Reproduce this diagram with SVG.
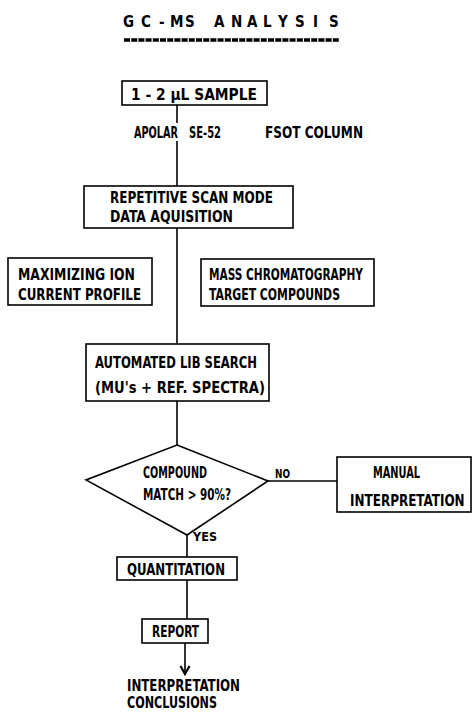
<svg xmlns="http://www.w3.org/2000/svg" width="472" height="713" viewBox="0 0 472 713">
<style>
  text { font-family: "DejaVu Sans Condensed", "Liberation Sans Narrow", "Liberation Sans", sans-serif; font-weight: bold; font-size: 15px; fill: #000; }
  .box { fill: #fff; stroke: #000; stroke-width: 1.6; }
  .ln { fill: none; stroke: #000; stroke-width: 1.6; }
  .lbl { font-size: 12px; }
</style>
<g id="title">
  <text x="123 141 159 170 185 214 231 247 263 278 295 313 329" y="27" font-size="17">GC-MSANALYSIS</text>
  <line x1="124" y1="40" x2="339" y2="40" stroke="#000" stroke-width="3.5" stroke-dasharray="6 1.2"/>
</g>
<g id="connectors">
  <line class="ln" x1="177" y1="105" x2="177" y2="123"/>
  <line class="ln" x1="177" y1="141" x2="177" y2="186"/>
  <line class="ln" x1="177" y1="228" x2="177" y2="344"/>
  <line class="ln" x1="177" y1="401" x2="177" y2="445"/>
  <line class="ln" x1="268" y1="481" x2="337" y2="481"/>
  <line class="ln" x1="187" y1="535" x2="187" y2="557"/>
  <line class="ln" x1="187" y1="580" x2="187" y2="619"/>
  <line class="ln" x1="185" y1="643" x2="185" y2="673"/>
  <path d="M180.5,666 L185,674 L189.5,666" fill="none" stroke="#000" stroke-width="2.2"/>
  <text class="lbl" x="275" y="478" textLength="15" lengthAdjust="spacingAndGlyphs">NO</text>
  <text class="lbl" x="193" y="541" textLength="24" lengthAdjust="spacingAndGlyphs">YES</text>
</g>
<g id="sample">
  <rect class="box" x="122" y="81" width="145" height="24"/>
  <text x="131" y="100" textLength="126" lengthAdjust="spacingAndGlyphs" font-size="16">1 - 2 μL SAMPLE</text>
</g>
<g id="column">
  <text transform="translate(134,138) scale(0.72,1)" font-size="14">APOLAR</text>
  <text x="189" y="138" textLength="32" lengthAdjust="spacingAndGlyphs" font-size="14">SE-52</text>
  <text x="265" y="138" textLength="98" lengthAdjust="spacingAndGlyphs" font-size="14">FSOT COLUMN</text>
</g>
<g id="repetitive">
  <rect class="box" x="84" y="186" width="209" height="42"/>
  <text x="110" y="203" textLength="163" lengthAdjust="spacingAndGlyphs">REPETITIVE SCAN MODE</text>
  <text x="110" y="222" textLength="123" lengthAdjust="spacingAndGlyphs">DATA AQUISITION</text>
</g>
<g id="maximizing">
  <rect class="box" x="8" y="258" width="144" height="47"/>
  <text x="18" y="280" textLength="117" lengthAdjust="spacingAndGlyphs">MAXIMIZING ION</text>
  <text x="18" y="300" textLength="123" lengthAdjust="spacingAndGlyphs">CURRENT PROFILE</text>
</g>
<g id="masschrom">
  <rect class="box" x="201" y="259" width="173" height="47"/>
  <text x="209" y="280" textLength="154" lengthAdjust="spacingAndGlyphs">MASS CHROMATOGRAPHY</text>
  <text x="209" y="300" textLength="131" lengthAdjust="spacingAndGlyphs">TARGET COMPOUNDS</text>
</g>
<g id="libsearch">
  <rect class="box" x="86" y="344" width="183" height="57"/>
  <text x="95" y="368" textLength="162" lengthAdjust="spacingAndGlyphs">AUTOMATED LIB SEARCH</text>
  <text x="95" y="393" textLength="170" lengthAdjust="spacingAndGlyphs">(MU's + REF. SPECTRA)</text>
</g>
<g id="decision">
  <polygon class="box" points="177,445 268,481 187,535 86,480"/>
  <text x="143" y="478" textLength="64" lengthAdjust="spacingAndGlyphs">COMPOUND</text>
  <text x="143" y="500" textLength="88" lengthAdjust="spacingAndGlyphs">MATCH &gt; 90%?</text>
</g>
<g id="manual">
  <rect class="box" x="337" y="457" width="134" height="55"/>
  <text x="373" y="478" textLength="47" lengthAdjust="spacingAndGlyphs">MANUAL</text>
  <text transform="translate(350,506) scale(0.89,1)" font-size="14">INTERPRETATION</text>
</g>
<g id="quantitation">
  <rect class="box" x="117" y="557" width="120" height="23"/>
  <text x="127" y="575" textLength="98" lengthAdjust="spacingAndGlyphs">QUANTITATION</text>
</g>
<g id="report">
  <rect class="box" x="142" y="619" width="66" height="24"/>
  <text x="152" y="637" textLength="47" lengthAdjust="spacingAndGlyphs">REPORT</text>
</g>
<g id="conclusions">
  <text x="127" y="691" textLength="113" lengthAdjust="spacingAndGlyphs">INTERPRETATION</text>
  <text x="127" y="708" textLength="90" lengthAdjust="spacingAndGlyphs">CONCLUSIONS</text>
</g>
</svg>
